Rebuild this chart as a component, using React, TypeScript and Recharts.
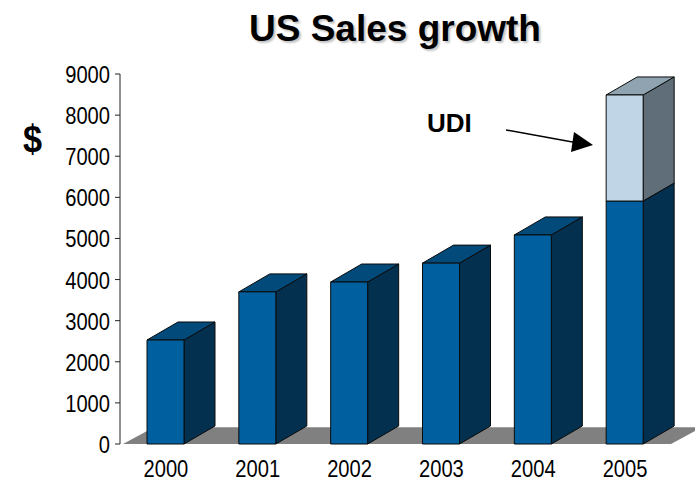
import { BarChart, Bar, XAxis, YAxis, ReferenceArea } from "recharts";

const years = ["2000", "2001", "2002", "2003", "2004", "2005"];
const baseSales = [2530, 3700, 3940, 4400, 5085, 5910];
const udiSales = [0, 0, 0, 0, 0, 2580];
const yTicks = [0, 1000, 2000, 3000, 4000, 5000, 6000, 7000, 8000, 9000];

const data = years.map((year, i) => ({
  year,
  base: baseSales[i],
  udi: udiSales[i],
}));

const FONT = '"Liberation Sans", Arial, sans-serif';
const DX = 31;
const DY = 18;

// the original text is tall and narrow, so squeeze each label
function SqueezedTick(props: any) {
  const { x, y, payload, textAnchor } = props;
  const label = String(payload.value);
  const isY = textAnchor === "end";
  return (
    <text
      x={x}
      y={isY ? y + 9 : y + 19}
      fontSize={23}
      fontFamily={FONT}
      fill="#000"
      textAnchor={textAnchor}
      textLength={label.length * 11.2}
      lengthAdjust="spacingAndGlyphs"
    >
      {label}
    </text>
  );
}

function Box3D(props: any) {
  const { x, y, width, height, front, side, top } = props;
  if (!height || height <= 0) return null;
  const r = x + width;
  const b = y + height;
  return (
    <g stroke="#0a0a0a" strokeWidth={1} strokeLinejoin="round">
      <polygon points={`${r},${y} ${r + DX},${y - DY} ${r + DX},${b - DY} ${r},${b}`} fill={side} />
      <polygon points={`${x},${y} ${x + DX},${y - DY} ${r + DX},${y - DY} ${r},${y}`} fill={top} />
      <rect x={x} y={y} width={width} height={height} fill={front} />
    </g>
  );
}

function Floor(props: any) {
  const { x, y, width, height } = props;
  const b = y + height;
  return (
    <polygon
      points={`${x + 3},${b} ${x + 3 + DX},${y} ${x + width + DX},${y} ${x + width},${b}`}
      fill="#808080"
    />
  );
}

export default function App() {
  return (
    <div
      style={{
        position: "absolute",
        left: 0,
        top: 0,
        width: 695,
        height: 481,
        overflow: "hidden",
        background: "#fff",
        fontFamily: FONT,
      }}
    >
      <BarChart
        width={695}
        height={481}
        data={data}
        barSize={37}
        margin={{ top: 74, right: 24, left: 60, bottom: 0 }}
        style={{ overflow: "hidden" }}
      >
        <XAxis
          dataKey="year"
          axisLine={false}
          tickLine={false}
          height={37}
          interval={0}
          tick={<SqueezedTick />}
          tickMargin={8}
        />
        <YAxis
          width={60}
          domain={[0, 9000]}
          ticks={yTicks}
          interval={0}
          axisLine={{ stroke: "#222" }}
          tickLine={{ stroke: "#222" }}
          tickSize={5}
          tick={<SqueezedTick />}
          tickMargin={5}
        />
        <ReferenceArea y1={0} y2={410} shape={<Floor />} ifOverflow="visible" />
        <Bar
          dataKey="base"
          stackId="sales"
          isAnimationActive={false}
          shape={<Box3D front="#00609f" side="#03304f" top="#024a7a" />}
        />
        <Bar
          dataKey="udi"
          stackId="sales"
          isAnimationActive={false}
          shape={<Box3D front="#c0d6e6" side="#5f6e78" top="#8fa3b1" />}
        />
      </BarChart>

      <div
        style={{
          position: "absolute",
          left: 249,
          top: 8,
          fontSize: 37,
          fontWeight: 700,
          lineHeight: "42px",
          whiteSpace: "nowrap",
          textShadow: "2px 2px 2px #c4c4c4",
        }}
      >
        US Sales growth
      </div>
      <div
        style={{
          position: "absolute",
          left: 23,
          top: 117,
          fontSize: 38,
          fontWeight: 700,
          lineHeight: "44px",
          transform: "scaleX(0.9)",
          transformOrigin: "left",
        }}
      >
        $
      </div>
      <div
        style={{
          position: "absolute",
          left: 427,
          top: 108,
          fontSize: 26,
          fontWeight: 700,
          lineHeight: "30px",
        }}
      >
        UDI
      </div>
      <svg
        width={695}
        height={481}
        style={{ position: "absolute", left: 0, top: 0, pointerEvents: "none" }}
      >
        <line x1={506} y1={130} x2={578} y2={143} stroke="#000" strokeWidth={1.5} />
        <polygon points="593,145 574,132 571,152" fill="#000" />
      </svg>
    </div>
  );
}
